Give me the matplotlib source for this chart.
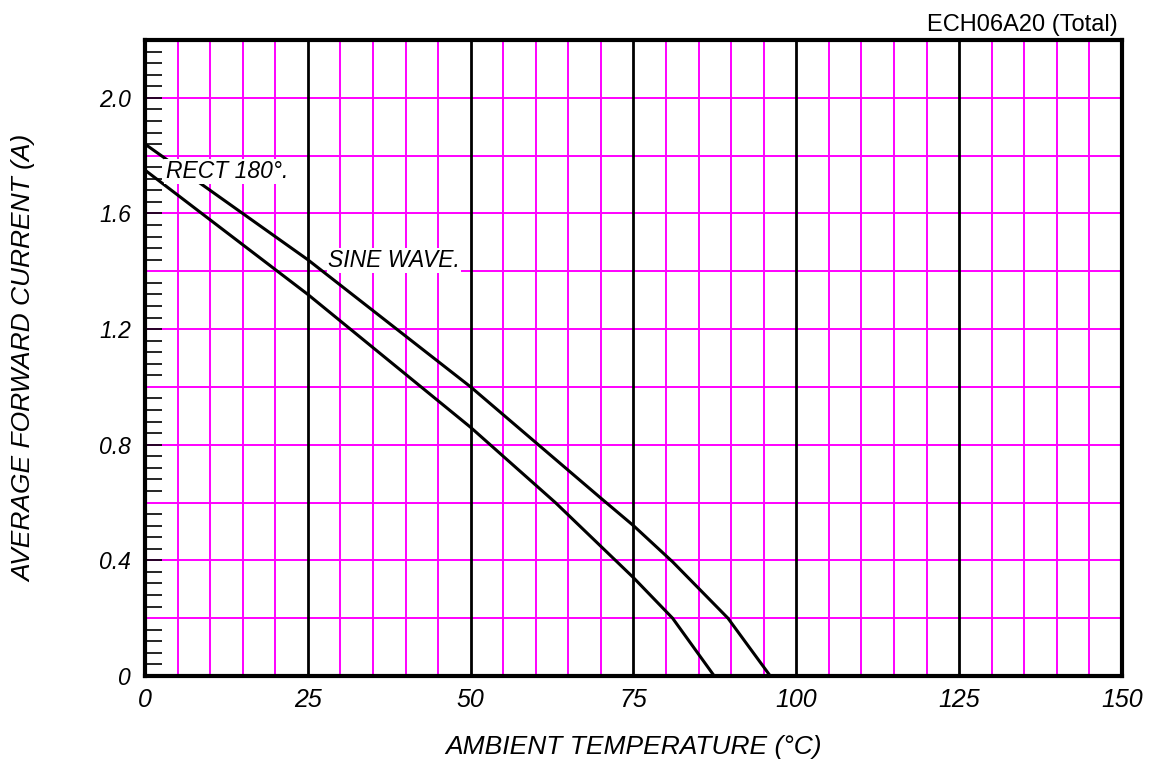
import numpy as np
import matplotlib
matplotlib.use("Agg")
import matplotlib.pyplot as plt

# derating curves
upper_t = [0, 25, 50, 70, 75, 81, 89.5, 96]
upper_i = [1.84, 1.44, 1.00, 0.615, 0.52, 0.395, 0.20, 0.0]
lower_t = [0, 25, 50, 63, 75, 81, 87.4]
lower_i = [1.75, 1.32, 0.86, 0.60, 0.34, 0.20, 0.0]

x_ticks = [0, 25, 50, 75, 100, 125, 150]
y_ticks = [0, 0.4, 0.8, 1.2, 1.6, 2.0]
y_tick_labels = ["0", "0.4", "0.8", "1.2", "1.6", "2.0"]

MAGENTA = "#FF00FF"

plt.rcParams["font.family"] = ["Liberation Sans", "DejaVu Sans"]

fig = plt.figure(figsize=(11.61, 7.64), dpi=100)
ax = fig.add_axes([0.1249, 0.1152, 0.9664 - 0.1249, 0.9476 - 0.1152])
ax.set_xlim(0, 150)
ax.set_ylim(0, 2.2)

# grid: magenta fine lines, black every 25 degC
for x in np.arange(5, 150, 5):
    if x % 25 == 0:
        ax.axvline(x, color="black", lw=2.0, zorder=2)
    else:
        ax.axvline(x, color=MAGENTA, lw=1.4, zorder=1)
for y in np.arange(0.2, 2.2, 0.2):
    ax.axhline(y, color=MAGENTA, lw=1.4, zorder=1)

ax.plot(upper_t, upper_i, color="black", lw=2.2, zorder=3, solid_capstyle="butt")
ax.plot(lower_t, lower_i, color="black", lw=2.2, zorder=3, solid_capstyle="butt")

ax.text(3.2, 1.745, "RECT 180°.", fontsize=16.5, style="italic", va="center", ha="left",
        zorder=4, bbox=dict(facecolor="white", edgecolor="none", pad=1.0))
ax.text(28.1, 1.437, "SINE WAVE.", fontsize=16.5, style="italic", va="center", ha="left",
        zorder=4, bbox=dict(facecolor="white", edgecolor="none", pad=1.0))

for s in ax.spines.values():
    s.set_linewidth(3.0)
    s.set_zorder(5)

ax.set_xticks(x_ticks)
ax.set_xticklabels([str(v) for v in x_ticks], fontsize=18, style="italic")
ax.tick_params(axis="x", length=0, pad=9)

ax.set_yticks(y_ticks)
ax.set_yticklabels(y_tick_labels, fontsize=16.5, style="italic")
minor = [v for v in np.round(np.arange(0.04, 2.2, 0.04), 2) if abs(v / 0.2 - round(v / 0.2)) > 1e-6]
ax.set_yticks(minor, minor=True)
ax.tick_params(axis="y", which="major", direction="in", length=12, width=1.2, pad=10)
ax.tick_params(axis="y", which="minor", direction="in", length=12, width=1.2)

ax.set_xlabel("AMBIENT TEMPERATURE (°C)", fontsize=19, style="italic", labelpad=16)
ax.set_ylabel("AVERAGE FORWARD CURRENT (A)", fontsize=19, style="italic")
ax.yaxis.set_label_coords(-0.1116, 0.5)

fig.text(0.9630, 0.967, "ECH06A20 (Total)", fontsize=17, ha="right", va="center")

fig.savefig("out.png", dpi=100)
